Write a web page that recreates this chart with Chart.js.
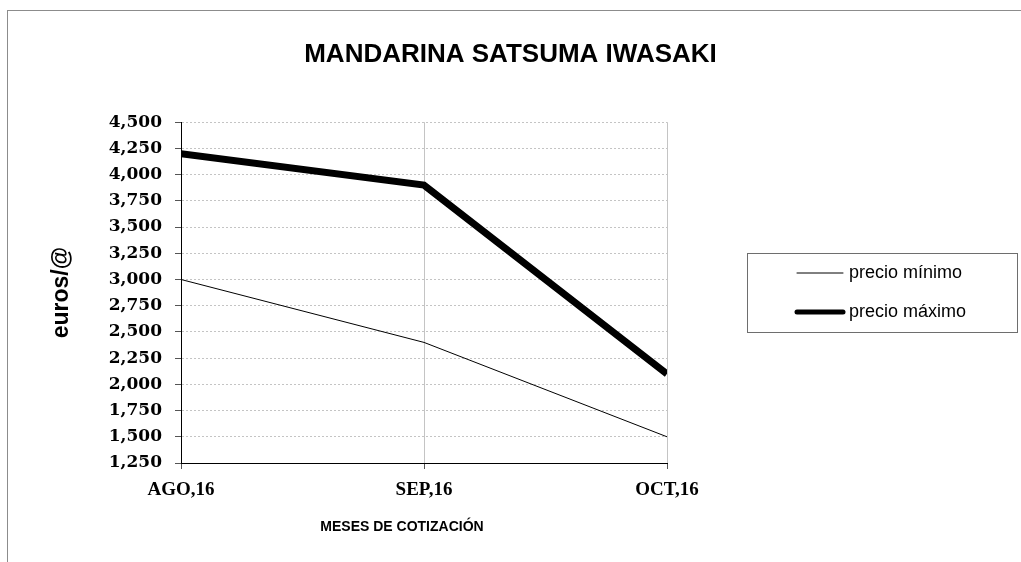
<!DOCTYPE html>
<html lang="es">
<head>
  <meta charset="UTF-8">
  <title>Mandarina Satsuma Iwasaki</title>
  <script src="https://cdn.jsdelivr.net/npm/chart.js"></script>
  <style>
    body {
      margin: 0;
      background: #fff;
    }
    .marco {
      position: relative;
      width: 1021px;
      height: 562px;
      overflow: hidden;
    }
    .marco .borde {
      position: absolute;
      left: 7px;
      top: 10px;
      right: -5px;
      bottom: -5px;
      border-top: 1px solid #8c8c8c;
      border-left: 1px solid #8c8c8c;
      pointer-events: none;
    }
    canvas {
      display: block;
    }
  </style>
</head>
<body>
  <div class="marco">
    <canvas id="grafico" width="1021" height="562"></canvas>
    <div class="borde"></div>
  </div>

  <script>
    // Datos (euros/@)
    const meses = ['AGO,16', 'SEP,16', 'OCT,16'];
    const precioMinimo = [3.0, 2.4, 1.5];
    const precioMaximo = [4.2, 3.9, 2.1];
    const etiquetasSerie = ['precio mínimo', 'precio máximo'];
    const ejeYMin = 1.25;
    const ejeYMax = 4.5;
    const ejeYPaso = 0.25;

    const titulo = 'MANDARINA SATSUMA IWASAKI';
    const tituloEjeX = 'MESES DE COTIZACIÓN';
    const tituloEjeY = 'euros/@';

    const sans = '"Liberation Sans", Arial, sans-serif';

    // Leyenda con recuadro y título del eje X, dibujados a mano
    const leyenda = {
      id: 'leyenda',
      afterDraw(chart) {
        const ctx = chart.ctx;
        ctx.save();
        ctx.fillStyle = '#000';
        ctx.font = 'bold 14px ' + sans;
        ctx.textAlign = 'center';
        ctx.textBaseline = 'middle';
        ctx.fillText(tituloEjeX, 402, 527);

        ctx.strokeStyle = '#6e6e6e';
        ctx.lineWidth = 1;
        ctx.strokeRect(747.5, 253.5, 270, 79);

        const filas = [273, 312];
        ctx.font = '18px ' + sans;
        ctx.textAlign = 'left';
        chart.data.datasets.forEach((ds, i) => {
          ctx.beginPath();
          ctx.strokeStyle = ds.borderColor;
          ctx.lineWidth = Math.min(ds.borderWidth, 5);
          ctx.lineCap = 'round';
          ctx.moveTo(797, filas[i]);
          ctx.lineTo(843, filas[i]);
          ctx.stroke();
          ctx.fillText(ds.label, 849, filas[i]);
        });
        ctx.restore();
      }
    };

    new Chart(document.getElementById('grafico'), {
      type: 'line',
      data: {
        labels: meses,
        datasets: [
          {
            label: etiquetasSerie[0],
            data: precioMinimo,
            borderColor: '#000',
            borderWidth: 1,
            pointRadius: 0,
            tension: 0,
            clip: 0
          },
          {
            label: etiquetasSerie[1],
            data: precioMaximo,
            borderColor: '#000',
            borderWidth: 7,
            borderJoinStyle: 'miter',
            pointRadius: 0,
            tension: 0,
            clip: 0
          }
        ]
      },
      options: {
        responsive: false,
        animation: false,
        layout: { padding: 0 },
        plugins: {
          legend: { display: false },
          tooltip: { enabled: false },
          title: {
            display: true,
            text: titulo,
            color: '#000',
            font: { family: sans, size: 26, weight: 'bold' },
            padding: { top: 39, bottom: 52 }
          }
        },
        scales: {
          x: {
            afterFit: s => { s.height = 99; },
            grid: {
              color: c => c.index === 0 ? 'rgba(0,0,0,0)' : '#c4c4c4',
              tickColor: '#555',
              tickLength: 6
            },
            border: { color: '#000', width: 1 },
            ticks: {
              color: '#000',
              padding: 10,
              font: { family: '"Liberation Serif", "Times New Roman", serif', size: 19, weight: 'bold' }
            }
          },
          y: {
            min: ejeYMin,
            max: ejeYMax,
            afterFit: s => { s.width = 181; },
            grid: {
              color: c => c.index === 0 ? 'rgba(0,0,0,0)' : '#c4c4c4',
              tickColor: '#555',
              tickLength: 6
            },
            border: { color: '#000', width: 1, dash: [2, 2] },
            ticks: {
              stepSize: ejeYPaso,
              color: '#000',
              padding: 13,
              font: { family: '"DejaVu Serif", serif', size: 17, weight: 'bold' },
              callback: v => v.toFixed(3).replace('.', ',')
            },
            title: {
              display: true,
              text: tituloEjeY,
              color: '#000',
              font: { family: sans, size: 23, weight: 'bold' },
              padding: { top: 48, bottom: 0 }
            }
          },
          // eje vacío a la derecha: reserva el hueco de la leyenda
          derecha: {
            position: 'right',
            afterFit: s => { s.width = 354; },
            grid: { display: false },
            border: { display: false },
            ticks: { display: false }
          }
        }
      },
      plugins: [leyenda]
    });
  </script>
</body>
</html>
